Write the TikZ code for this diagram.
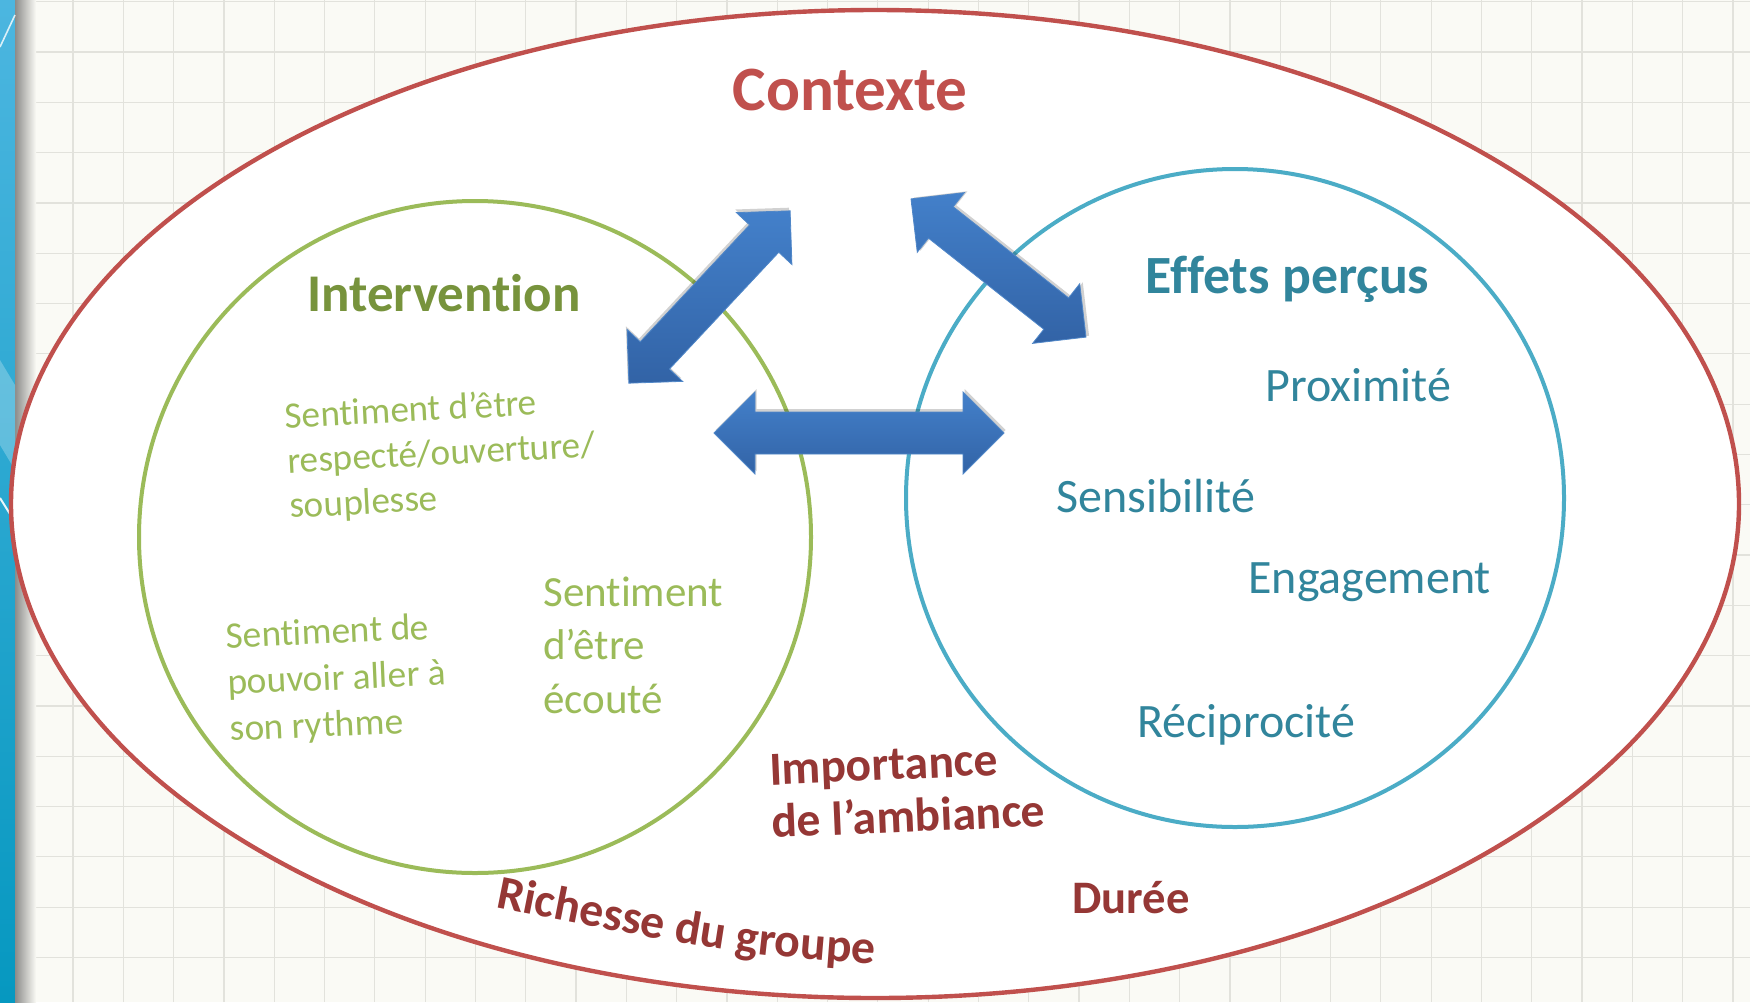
\documentclass[tikz,border=0pt]{standalone}
\usepackage{fontspec}
\setmainfont{Carlito}[Ligatures=NoCommon]
\usetikzlibrary{shapes.geometric,decorations.text}
\definecolor{ctxred}{RGB}{192,80,77}
\definecolor{dkred}{RGB}{149,55,53}
\definecolor{grn}{RGB}{155,187,89}
\definecolor{dkgrn}{RGB}{119,147,60}
\definecolor{cyanc}{RGB}{75,172,198}
\definecolor{efteal}{RGB}{49,133,156}
\definecolor{bgc}{RGB}{250,250,245}
\definecolor{gridc}{RGB}{226,226,220}
\definecolor{arrtop}{RGB}{67,128,202}
\definecolor{arrbot}{RGB}{50,99,166}
\definecolor{arredge}{RGB}{80,135,200}
\definecolor{stripA}{RGB}{76,182,224}
\definecolor{stripB}{RGB}{6,152,192}
\definecolor{shadowc}{RGB}{140,140,138}

\newcommand{\blkarrow}[6]{%
  % #1 name, #2 centre, #3 angle, #4 length, #5 head width, #6 shaft width
  \pgfmathsetmacro\arHL{#4/2}%
  \pgfmathsetmacro\arHB{#4/2-#5/2}%
  \pgfmathsetmacro\arHH{#5/2}%
  \pgfmathsetmacro\arSH{#6/2}%
  \begin{scope}[shift={#2}, rotate=#3]
    \begin{scope}[shift={(1.5,-3)}]
      \path[arrshadow] (-\arHL,0) -- (-\arHB,\arHH) -- (-\arHB,\arSH) -- (\arHB,\arSH) -- (\arHB,\arHH) -- (\arHL,0) -- (\arHB,-\arHH) -- (\arHB,-\arSH) -- (-\arHB,-\arSH) -- (-\arHB,-\arHH) -- cycle;
    \end{scope}
    \path[arrbody] (-\arHL,0) -- (-\arHB,\arHH) -- (-\arHB,\arSH) -- (\arHB,\arSH) -- (\arHB,\arHH) -- (\arHL,0) -- (\arHB,-\arHH) -- (\arHB,-\arSH) -- (-\arHB,-\arSH) -- (-\arHB,-\arHH) -- cycle;
    \coordinate (#1) at (0,0);
  \end{scope}}

\begin{document}
\begin{tikzpicture}[x=0.5pt,y=-0.5pt,
  gridline/.style={draw=gridc, line width=0.6pt},
  arrbody/.style={top color=arrtop, bottom color=arrbot, draw=arredge, line width=0.4pt},
  arrshadow/.style={fill=black, opacity=0.18},
  title/.style={inner sep=0, anchor=base west},
  greentxt/.style={text=grn, align=left, inner sep=0, anchor=base west},
  effitem/.style={text=efteal, font=\fontsize{24}{28}\selectfont, inner sep=0, anchor=base west},
  ctxitem/.style={text=dkred, inner sep=0, align=left, anchor=base west}]
\useasboundingbox (0,0) rectangle (1750,1002);
% background paper
\fill[bgc] (0,0) rectangle (1750,1002);
\foreach \i in {0,...,34} \draw[gridline] ({22.7+50.3*\i},0) -- ({22.7+50.3*\i},1002);
\foreach \j in {0,...,19} \draw[gridline] (0,{1.7+50.3*\j}) -- (1750,{1.7+50.3*\j});
% left strip
\shade[top color=stripA, bottom color=stripB] (0,0) rectangle (15,1002);
\shade[left color=shadowc, right color=bgc] (15,0) rectangle (36,1002);
\fill[white, opacity=0.25] (0,360) -- (15,385) -- (15,470) -- (0,445) -- cycle;
\draw[white, opacity=0.8, line width=0.8pt] (0,47) -- (15,15);
\draw[white, opacity=0.9, line width=1pt] (0,498) -- (15,522);

% context ellipse and circles
\node[ellipse, draw=ctxred, fill=white, line width=2.2pt, minimum width=864pt, minimum height=494pt, inner sep=0] (ctx) at (875,504) {};
\node[circle, draw=grn, line width=2pt, minimum size=336pt, inner sep=0] (intcircle) at (475,537) {};
\node[circle, draw=cyanc, line width=2pt, minimum size=329pt, inner sep=0] (effcircle) at (1235,498) {};

% block arrows
\blkarrow{arrA}{(709.5,297)}{46.9}{236}{76}{40}
\blkarrow{arrB}{(998.5,268)}{-38.3}{223}{76}{40}
\blkarrow{arrC}{(859,433)}{0}{290}{82}{42}

% titles
\node[title, text=ctxred, font=\bfseries\fontsize{31.6}{36}\selectfont, anchor=base] (ctxlabel) at (850,110) {Contexte};
\node[title, text=dkgrn, font=\bfseries\fontsize{26.5}{30}\selectfont] (intlabel) at (307,311) {Intervention};
\node[title, text=efteal, font=\bfseries\fontsize{26.9}{30}\selectfont] (efflabel) at (1145,293) {Effets perçus};

% intervention items (anchor = baseline of last line)
\node[greentxt, font=\fontsize{18.6}{22.5}\selectfont, rotate=3] (g1) at (290,518) {Sentiment d’être\\respecté/ouverture/\\souplesse};
\node[greentxt, font=\fontsize{18.7}{23.25}\selectfont, rotate=2.5] (g2) at (230,741) {Sentiment de\\pouvoir aller à\\son rythme};
\node[greentxt, font=\fontsize{21.5}{26.75}\selectfont] (g3) at (543,713) {Sentiment\\d’être\\écouté};

% perceived effects
\node[effitem] (prox) at (1265,401) {Proximité};
\node[effitem] (sens) at (1056,512) {Sensibilité};
\node[effitem] (eng) at (1248,593) {Engagement};
\node[effitem] (recip) at (1137,737) {Réciprocité};

% context items
\node[ctxitem, font=\bfseries\fontsize{23.8}{26.5}\selectfont, rotate=2.5] (ambi) at (772,838) {Importance\\de l’ambiance};
\node[ctxitem, font=\bfseries\fontsize{23.3}{27}\selectfont] (duree) at (1072,913) {Durée};
\path[decorate, decoration={text along path, text align=center,
   text={|\bfseries\fontsize{23.9}{28}\selectfont\color{dkred}|Richesse du groupe}}]
   (470,902) .. controls (731,954) .. (900,966);
\end{tikzpicture}
\end{document}
